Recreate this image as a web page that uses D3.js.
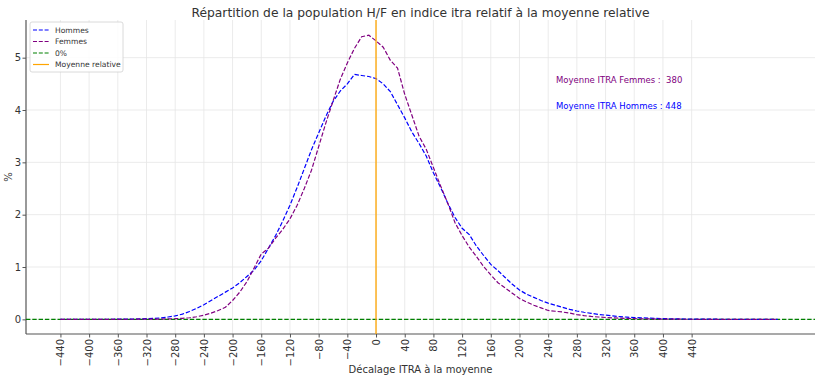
<!DOCTYPE html>
<html lang="fr">
<head>
<meta charset="UTF-8">
<title>Répartition H/F</title>
<script src="https://cdnjs.cloudflare.com/ajax/libs/d3/7.8.5/d3.min.js"></script>
<style>
  body { margin: 0; background: #fff; }
  text { font-family: "DejaVu Sans", sans-serif; }
</style>
</head>
<body>
<svg id="chart" width="820" height="380"></svg>
<script>
// décalage ITRA (pas de 10)
const decalage = d3.range(-440, 561, 10);

const hommes = [
  0, 0, 0, 0, 0.001, 0.001, 0.002, 0.002, 0.003, 0.004,
  0.006, 0.008, 0.012, 0.018, 0.028, 0.045, 0.065, 0.10, 0.15, 0.21,
  0.28, 0.36, 0.44, 0.52, 0.60, 0.70, 0.82, 0.94, 1.12, 1.36,
  1.60, 1.88, 2.18, 2.52, 2.88, 3.24, 3.56, 3.88, 4.16, 4.36,
  4.50, 4.68, 4.66, 4.64, 4.60, 4.50, 4.35, 4.10, 3.85, 3.58,
  3.36, 3.12, 2.80, 2.52, 2.22, 1.95, 1.74, 1.62, 1.40, 1.22,
  1.05, 0.93, 0.80, 0.67, 0.56, 0.48, 0.42, 0.36, 0.31, 0.27,
  0.23, 0.19, 0.16, 0.135, 0.115, 0.095, 0.08, 0.065, 0.052, 0.042,
  0.034, 0.028, 0.023, 0.018, 0.014, 0.011, 0.009, 0.007, 0.005, 0.004,
  0.003, 0.003, 0.002, 0.002, 0.001, 0.001, 0.001, 0.001, 0, 0, 0
];

const femmes = [
  0, 0, 0, 0, 0, 0, 0, 0.001, 0.001, 0.001,
  0.002, 0.003, 0.004, 0.005, 0.006, 0.008, 0.012, 0.02, 0.03, 0.05,
  0.08, 0.12, 0.17, 0.23, 0.36, 0.52, 0.72, 0.98, 1.25, 1.36,
  1.55, 1.72, 1.92, 2.18, 2.50, 2.85, 3.30, 3.75, 4.17, 4.58,
  4.90, 5.18, 5.40, 5.43, 5.32, 5.20, 4.95, 4.80, 4.30, 3.90,
  3.50, 3.25, 2.90, 2.55, 2.22, 1.85, 1.60, 1.38, 1.20, 1.01,
  0.85, 0.70, 0.60, 0.50, 0.40, 0.33, 0.27, 0.22, 0.17, 0.155,
  0.14, 0.12, 0.09, 0.07, 0.055, 0.045, 0.035, 0.028, 0.022, 0.017,
  0.013, 0.01, 0.008, 0.006, 0.005, 0.004, 0.003, 0.002, 0.002, 0.001,
  0.001, 0.001, 0.001, 0, 0, 0, 0, 0, 0, 0, 0
];

const xTicks = d3.range(-440, 441, 40);
const yTicks = [0, 1, 2, 3, 4, 5];
const moyenneFemmes = 380;
const moyenneHommes = 448;

const svg = d3.select("#chart");
const mLeft = 26, mRight = 815, mTop = 20, mBottom = 334;

const x = d3.scaleLinear().domain([-488, 612]).range([mLeft, mRight]);
const y = d3.scaleLinear().domain([-0.28, 5.72]).range([mBottom, mTop]);

// grille
svg.append("g")
  .selectAll("line")
  .data(xTicks)
  .join("line")
  .attr("x1", d => x(d)).attr("x2", d => x(d))
  .attr("y1", mTop).attr("y2", mBottom)
  .attr("stroke", "#e6e6e6").attr("stroke-width", 0.8);

svg.append("g")
  .selectAll("line")
  .data(yTicks)
  .join("line")
  .attr("x1", mLeft).attr("x2", mRight)
  .attr("y1", d => y(d)).attr("y2", d => y(d))
  .attr("stroke", "#e6e6e6").attr("stroke-width", 0.8);

// axes
const fmt = d => d < 0 ? "\u2212" + Math.abs(d) : String(d);

const xAxis = svg.append("g")
  .attr("transform", `translate(0,${mBottom})`)
  .call(d3.axisBottom(x).tickValues(xTicks).tickFormat(fmt).tickSize(3.5).tickSizeOuter(0));
xAxis.select(".domain").remove();
xAxis.selectAll("line").attr("stroke", "#555");
xAxis.selectAll("text")
  .attr("transform", "rotate(-90)")
  .attr("text-anchor", "end")
  .attr("x", -5).attr("y", 0).attr("dy", "0.35em")
  .attr("font-size", 10).attr("fill", "#333");

const yAxis = svg.append("g")
  .attr("transform", `translate(${mLeft},0)`)
  .call(d3.axisLeft(y).tickValues(yTicks).tickFormat(d3.format("d")).tickSize(3.5).tickSizeOuter(0));
yAxis.select(".domain").remove();
yAxis.selectAll("line").attr("stroke", "#555");
yAxis.selectAll("text").attr("font-size", 10).attr("fill", "#333").attr("x", -5);

// spines gauche et bas
svg.append("line").attr("x1", mLeft).attr("x2", mLeft).attr("y1", mTop).attr("y2", mBottom)
  .attr("stroke", "#555").attr("stroke-width", 1.2);
svg.append("line").attr("x1", mLeft).attr("x2", mRight).attr("y1", mBottom).attr("y2", mBottom)
  .attr("stroke", "#555").attr("stroke-width", 1.2);

// ligne 0%
svg.append("line")
  .attr("x1", mLeft).attr("x2", mRight)
  .attr("y1", y(0)).attr("y2", y(0))
  .attr("stroke", "green").attr("stroke-width", 1.2)
  .attr("stroke-dasharray", "4.4,1.9");

// courbes
const line = d3.line()
  .x((d, i) => x(decalage[i]))
  .y(d => y(d));

svg.append("path")
  .attr("d", line(hommes))
  .attr("fill", "none").attr("stroke", "blue")
  .attr("stroke-width", 1.2).attr("stroke-dasharray", "4.4,1.9");

svg.append("path")
  .attr("d", line(femmes))
  .attr("fill", "none").attr("stroke", "purple")
  .attr("stroke-width", 1.2).attr("stroke-dasharray", "4.4,1.9");

// moyenne relative
svg.append("line")
  .attr("x1", x(0)).attr("x2", x(0))
  .attr("y1", mTop).attr("y2", mBottom)
  .attr("stroke", "orange").attr("stroke-width", 1.3);

// annotations
svg.append("text")
  .attr("x", 556).attr("y", 83)
  .attr("font-size", 8.5).attr("fill", "purple")
  .attr("xml:space", "preserve")
  .text(`Moyenne ITRA Femmes :  ${moyenneFemmes}`);
svg.append("text")
  .attr("x", 556).attr("y", 109)
  .attr("font-size", 8.5).attr("fill", "blue")
  .text(`Moyenne ITRA Hommes : ${moyenneHommes}`);

// titres
svg.append("text")
  .attr("x", (mLeft + mRight) / 2).attr("y", 17)
  .attr("text-anchor", "middle")
  .attr("font-size", 12.3).attr("fill", "#333")
  .text("Répartition de la population H/F en indice itra relatif à la moyenne relative");

svg.append("text")
  .attr("x", (mLeft + mRight) / 2).attr("y", 373)
  .attr("text-anchor", "middle")
  .attr("font-size", 10).attr("fill", "#333")
  .text("Décalage ITRA à la moyenne");

svg.append("text")
  .attr("transform", `translate(12,${(mTop + mBottom) / 2}) rotate(-90)`)
  .attr("text-anchor", "middle")
  .attr("font-size", 10).attr("fill", "#333")
  .text("%");

// légende
const legendItems = [
  { label: "Hommes", color: "blue", dash: "4,1.8" },
  { label: "Femmes", color: "purple", dash: "4,1.8" },
  { label: "0%", color: "green", dash: "4,1.8" },
  { label: "Moyenne relative", color: "orange", dash: null }
];

const legend = svg.append("g").attr("transform", "translate(30,22)");
legend.append("rect")
  .attr("width", 93).attr("height", 50).attr("rx", 2)
  .attr("fill", "white").attr("fill-opacity", 0.85)
  .attr("stroke", "#d0d0d0").attr("stroke-width", 0.8);

const li = legend.selectAll("g.item")
  .data(legendItems)
  .join("g")
  .attr("class", "item")
  .attr("transform", (d, i) => `translate(0,${8 + i * 11.5})`);

li.append("line")
  .attr("x1", 3).attr("x2", 19)
  .attr("stroke", d => d.color).attr("stroke-width", 1.2)
  .attr("stroke-dasharray", d => d.dash);

li.append("text")
  .attr("x", 25).attr("dy", "0.35em")
  .attr("font-size", 7.6).attr("fill", "#333")
  .text(d => d.label);
</script>
</body>
</html>
